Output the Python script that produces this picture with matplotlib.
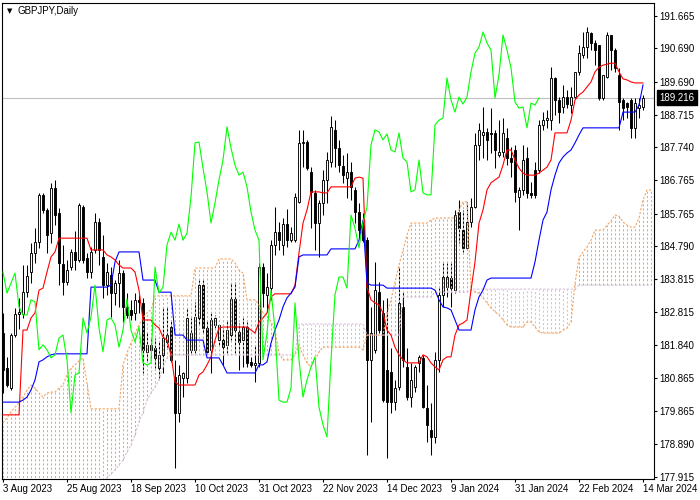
import matplotlib
matplotlib.use('Agg')
import matplotlib.pyplot as plt
import matplotlib.transforms as mtransforms
from matplotlib.patches import Rectangle

plt.rcParams['font.family'] = ['Liberation Sans', 'DejaVu Sans']

# ── Data (GBPJPY daily, 3 Aug 2023 .. 14 Mar 2024) ─────────────────────────
OPENS = [182.20, 181.16, 180.56, 182.14, 182.77, 182.77, 183.42, 184.02, 184.59, 184.92,
         186.32, 185.87, 185.18, 186.53, 185.78, 184.26, 183.72, 184.17, 184.62, 184.38,
         185.96, 184.44, 184.02, 184.68, 185.51, 184.47, 183.63, 183.93, 183.39, 183.69,
         183.99, 182.98, 182.89, 182.80, 183.19, 183.10, 181.64, 181.85, 181.76, 181.16,
         181.55, 181.93, 182.38, 180.89, 179.82, 180.86, 180.86, 181.70, 181.70, 182.65,
         183.63, 182.35, 181.70, 182.44, 181.99, 181.99, 181.85, 182.14, 183.22, 182.23,
         181.99, 182.38, 181.34, 181.25, 181.31, 184.17, 183.34, 183.54, 184.83, 185.21,
         184.83, 185.45, 184.97, 184.97, 186.11, 187.87, 187.90, 187.00, 186.38, 185.48,
         186.08, 186.77, 187.30, 188.26, 187.72, 187.18, 186.82, 187.00, 186.47, 185.81,
         185.42, 184.97, 181.40, 181.70, 183.42, 182.80, 181.10, 181.04, 180.14, 180.59,
         182.98, 181.19, 180.29, 180.59, 181.31, 181.46, 179.96, 179.31, 179.10, 181.40,
         183.34, 183.57, 183.84, 183.48, 185.81, 185.27, 184.74, 185.51, 185.96, 187.81,
         188.11, 188.20, 188.17, 188.17, 187.51, 187.60, 188.02, 187.42, 187.66, 186.26,
         186.47, 187.42, 186.38, 187.06, 187.06, 188.41, 188.55, 188.55, 189.81, 189.15,
         188.94, 189.24, 189.00, 189.24, 189.99, 190.49, 190.73, 191.15, 190.85, 190.79,
         189.21, 189.84, 191.09, 190.64, 189.90, 189.15, 189.06, 189.15, 188.32, 188.91,
         188.94]
HIGHS = [182.80, 181.49, 182.20, 182.95, 183.25, 184.23, 184.23, 184.89, 185.33, 186.38,
         186.38, 185.93, 186.68, 186.77, 185.93, 184.83, 184.38, 184.71, 185.24, 186.08,
         186.02, 184.59, 184.77, 185.78, 185.63, 185.12, 184.29, 184.17, 183.78, 184.38,
         184.08, 183.39, 183.19, 183.39, 183.34, 183.25, 182.23, 182.08, 182.05, 181.93,
         182.98, 182.98, 182.59, 181.40, 181.25, 181.04, 182.95, 182.65, 183.13, 183.78,
         183.78, 182.59, 182.80, 182.74, 182.44, 182.35, 182.59, 183.69, 183.72, 182.50,
         182.65, 182.53, 181.49, 181.84, 184.29, 184.29, 183.99, 184.97, 185.96, 185.51,
         185.63, 185.90, 185.36, 186.38, 188.26, 188.26, 187.96, 187.15, 186.47, 186.17,
         187.06, 187.60, 188.67, 188.55, 187.96, 187.51, 187.57, 187.30, 186.56, 186.08,
         185.78, 185.06, 182.98, 184.32, 183.72, 183.19, 183.25, 181.76, 180.80, 184.17,
         183.42, 181.76, 181.31, 181.25, 181.55, 181.55, 180.65, 180.11, 181.64, 183.54,
         184.29, 184.29, 184.29, 185.87, 186.17, 185.87, 186.11, 186.23, 188.17, 188.46,
         188.94, 188.32, 188.91, 188.26, 188.55, 188.61, 188.32, 187.75, 187.81, 186.56,
         187.81, 187.75, 186.71, 187.30, 188.55, 188.79, 188.85, 190.13, 189.84, 189.24,
         189.60, 189.45, 189.54, 189.99, 190.79, 191.18, 191.33, 191.18, 190.94, 190.79,
         189.90, 191.18, 191.09, 190.70, 190.11, 189.21, 189.09, 189.21, 189.21, 189.21,
         189.30]
LOWS = [180.41, 180.59, 180.50, 182.08, 182.32, 182.65, 183.28, 183.69, 184.29, 184.74,
        185.78, 184.59, 184.89, 185.42, 183.63, 183.34, 183.63, 184.08, 184.08, 184.32,
        184.29, 183.84, 183.84, 184.59, 184.23, 183.25, 183.34, 182.68, 183.04, 182.98,
        182.53, 182.65, 182.59, 182.59, 182.80, 181.01, 181.34, 181.40, 181.16, 180.86,
        181.01, 181.78, 181.34, 178.18, 179.55, 180.29, 180.71, 181.61, 181.61, 182.44,
        182.20, 181.61, 181.01, 182.35, 181.85, 181.25, 181.61, 181.99, 181.61, 181.10,
        181.19, 181.19, 181.19, 180.74, 181.19, 182.98, 182.83, 183.19, 184.53, 184.68,
        184.53, 184.77, 184.92, 184.92, 186.08, 187.15, 187.06, 185.33, 184.68, 184.47,
        185.72, 186.08, 187.15, 187.15, 187.00, 186.68, 186.23, 186.17, 185.48, 185.06,
        184.92, 178.56, 179.55, 181.61, 182.20, 180.14, 178.47, 179.82, 179.91, 180.50,
        181.19, 180.20, 180.00, 180.44, 181.04, 179.96, 178.95, 178.56, 178.92, 181.04,
        182.98, 183.28, 182.98, 183.39, 184.89, 184.62, 184.68, 185.36, 185.93, 187.36,
        187.42, 187.36, 187.57, 187.12, 187.45, 187.45, 187.21, 186.85, 186.11, 185.27,
        186.32, 186.23, 186.23, 186.23, 186.97, 188.26, 188.32, 188.26, 188.70, 188.46,
        188.76, 188.91, 188.76, 189.21, 189.90, 190.40, 190.40, 190.64, 190.19, 189.15,
        189.15, 189.81, 190.05, 189.99, 188.26, 188.55, 188.61, 188.02, 188.02, 188.61,
        188.85]
CLOSES = [181.10, 180.65, 182.14, 182.77, 182.83, 183.42, 183.90, 184.59, 184.92, 186.32,
          185.87, 185.12, 186.53, 185.72, 184.29, 183.72, 184.08, 184.62, 184.38, 186.02,
          184.38, 184.02, 184.62, 185.51, 184.68, 183.63, 184.02, 183.39, 183.69, 183.99,
          182.98, 182.74, 182.74, 183.19, 183.13, 181.70, 181.85, 181.70, 181.46, 181.55,
          182.05, 182.14, 181.40, 179.82, 180.95, 181.01, 182.65, 182.20, 182.68, 183.63,
          182.35, 181.64, 182.59, 182.65, 182.44, 181.78, 182.29, 183.22, 182.29, 181.93,
          182.38, 181.31, 181.25, 181.31, 184.17, 183.39, 183.57, 184.83, 185.21, 184.97,
          185.45, 184.97, 185.18, 186.26, 187.87, 187.90, 187.12, 186.41, 185.48, 186.08,
          186.77, 187.36, 188.35, 187.72, 187.21, 186.91, 187.00, 186.56, 185.81, 185.27,
          184.97, 181.40, 182.20, 183.48, 182.29, 180.20, 180.14, 180.14, 180.56, 183.10,
          181.40, 180.29, 180.80, 181.19, 181.49, 179.99, 179.46, 179.10, 181.40, 183.34,
          183.87, 183.87, 183.54, 185.72, 185.33, 184.74, 185.51, 185.96, 187.81, 188.26,
          188.20, 187.96, 188.14, 187.66, 187.60, 188.17, 187.42, 187.30, 186.41, 186.47,
          187.36, 186.38, 186.32, 186.32, 188.41, 188.55, 188.61, 189.81, 189.15, 188.79,
          189.24, 189.03, 189.24, 189.99, 190.55, 190.73, 191.18, 190.85, 190.64, 189.21,
          189.90, 191.09, 190.64, 190.11, 189.09, 188.91, 188.94, 188.32, 189.06, 189.00,
          189.216]

# Ichimoku lines
TENKAN = ([179.76] * 5 + [182.29, 182.29, 182.65, 182.80, 183.48, 183.54, 184.02, 184.47, 184.62]
          + [185.03] * 8 + [184.68] * 4 + [184.53, 184.47, 184.38, 184.23] + [184.14] * 3
          + [184.02, 183.48] + [182.59] * 3 + [182.44, 182.35, 182.08, 181.99, 181.55, 180.74]
          + [180.65] * 5 + [180.95, 181.04, 181.25, 181.49, 181.99, 182.35] + [182.38] * 7
          + [182.29, 182.20, 182.53, 182.65, 182.80, 183.28] + [183.37] * 5
          + [183.63, 184.59, 185.48, 185.87] + [186.41] * 3 + [186.38] * 2 + [186.56] * 6
          + [186.82, 186.85, 186.82, 183.57, 183.19, 183.10, 183.04, 182.80, 182.29, 182.14,
             181.78, 181.55, 181.40] + [181.31] * 4
          + [181.55, 181.49, 181.31, 181.19, 181.10, 181.40, 181.49, 181.49, 182.14, 182.44,
             182.50, 182.59, 183.48, 184.32, 185.48, 185.87, 186.47, 186.68, 186.77, 186.85,
             187.21, 187.66, 187.66, 187.36, 187.12, 186.97] + [186.91] * 3
          + [186.97, 187.06, 187.15, 187.36] + [188.17] * 4
          + [188.55, 189.15, 189.30, 189.39, 189.54, 189.69, 189.99, 190.13, 190.19, 190.22,
             190.25, 190.25, 189.99, 189.78, 189.75, 189.69] + [189.66] * 3)
KIJUN = ([180.14] * 5 + [180.20, 180.29, 180.50, 180.80, 181.34, 181.40, 181.49, 181.55]
         + [181.58] * 9 + [183.57] * 5 + [183.63, 184.32] + [184.62] * 6 + [183.78] * 4
         + [183.42] * 4 + [182.14] * 3 + [181.99] * 5 + [181.46] * 4 + [181.25]
         + [181.01] * 8 + [181.25] * 2
         + [181.34, 181.90, 182.29, 182.59, 182.98, 183.25, 183.39, 183.57, 184.47]
         + [184.53] * 7 + [184.71] * 7 + [184.97, 185.57, 183.69] + [183.63] * 4
         + [183.54] * 12 + [183.48, 183.19, 182.98, 182.95, 182.89, 182.59] + [182.29] * 4
         + [182.89, 183.28, 183.48, 183.78] + [183.84] * 11
         + [184.32, 184.97, 185.57, 185.81, 186.47, 186.91, 187.27, 187.45, 187.57, 187.66,
            187.87, 188.11] + [188.32] * 10 + [188.79] * 4 + [189.00, 189.60])
SPAN_A = ([179.52, 179.67, 179.85, 179.99, 180.11, 180.29, 180.50, 180.65, 180.56, 180.41,
           180.29, 180.41, 180.44, 180.44, 180.56, 180.65, 180.95, 181.16, 181.25, 181.37,
           181.46, 180.71] + [179.94] * 8
          + [181.25, 181.61, 181.90, 182.20, 182.44, 182.65, 182.80, 182.89] + [183.31] * 10
          + [184.14] * 6 + [184.41] * 4 + [184.29, 184.08, 183.99] + [183.19] * 3
          + [183.04, 182.80, 182.74, 182.53, 182.29, 181.61] + [181.40] * 3
          + [181.55, 181.84, 181.55, 181.31, 181.19, 181.40, 181.64] + [181.78] * 10
          + [181.70] + [182.14] * 5 + [182.80, 183.19, 183.72, 184.23, 184.68, 185.12]
          + [185.48] * 5 + [185.57] + [185.63] * 6 + [185.87, 186.11, 186.11]
          + [183.48, 183.42, 183.39, 183.25, 183.10, 182.95, 182.83, 182.74, 182.59, 182.44]
          + [182.38] * 4 + [182.53] * 2 + [182.38, 182.23] + [182.20] * 5
          + [182.29, 182.35, 182.53, 183.69, 184.44, 184.62, 184.77, 184.97] + [185.27] * 3
          + [185.42, 185.54, 185.72, 185.69, 185.51, 185.42, 185.36, 185.36, 185.63, 186.17,
             186.47, 186.47])
SPAN_B = ([177.52] * 25
          + [177.70, 177.88, 178.00, 178.12, 178.27, 178.41, 178.65, 178.86, 179.16, 179.55,
             179.82, 180.20, 180.41, 180.59, 180.80, 181.19, 181.46]
          + [181.55] * 32 + [182.47] * 17 + [182.14] * 9 + [183.28] * 8 + [183.42] * 9
          + [183.51] * 27 + [183.63] * 19)

LAST_PRICE = 189.216
PRICE_TICKS = [191.665, 190.690, 189.690, 188.715, 187.740, 186.765, 185.765, 184.790,
               183.815, 182.815, 181.840, 180.865, 179.865, 178.890, 177.915]
DATE_IDX = [0, 16, 32, 48, 64, 80, 96, 112, 128, 144, 160]
DATE_LABELS = ['3 Aug 2023', '25 Aug 2023', '18 Sep 2023', '10 Oct 2023', '31 Oct 2023',
               '22 Nov 2023', '14 Dec 2023', '9 Jan 2024', '31 Jan 2024', '22 Feb 2024',
               '14 Mar 2024']
CHIKOU_SHIFT = 26

# ── Style ───────────────────────────────────────────────────────────────────
UP_KUMO = '#F4A460'     # sandy brown
DOWN_KUMO = '#D8BFD8'   # thistle
FONT_SIZE = 7

n = len(CLOSES)
assert len(OPENS) == n and len(HIGHS) == n and len(LOWS) == n
assert len(TENKAN) == n and len(KIJUN) == n, (len(TENKAN), len(KIJUN))
assert len(SPAN_A) == len(SPAN_B), (len(SPAN_A), len(SPAN_B))

fig = plt.figure(figsize=(7, 5), dpi=100)
ax = fig.add_axes([2 / 700, 21 / 500, 652 / 700, 476 / 500])
ax.set_xlim(-0.25, 162.75)
ax.set_ylim(177.847, 192.044)

# current price line
ax.axhline(LAST_PRICE, color='#C0C0C0', lw=0.8, zorder=0.5)

# candles
for i in range(n):
    o, h, l, c = OPENS[i], HIGHS[i], LOWS[i], CLOSES[i]
    ax.vlines(i, l, h, color='black', lw=0.75, zorder=2)
    bottom = min(o, c)
    height = max(abs(c - o), 0.005)
    face = 'white' if c >= o else 'black'
    ax.add_patch(Rectangle((i - 0.3, bottom), 0.6, height, facecolor=face,
                           edgecolor='black', lw=0.65, zorder=2.5))

# kumo (dotted histogram between span A and span B)
for i, (a, b) in enumerate(zip(SPAN_A, SPAN_B)):
    col = UP_KUMO if a >= b else DOWN_KUMO
    ax.vlines(i, min(a, b), max(a, b), color=col, lw=0.75,
              linestyles=(0, (2, 2)), zorder=3)
xs_span = list(range(len(SPAN_A)))
ax.plot(xs_span, SPAN_A, color=UP_KUMO, lw=0.8, ls=(0, (2, 1.5)), zorder=3.2)
ax.plot(xs_span, SPAN_B, color=DOWN_KUMO, lw=0.8, ls=(0, (2, 1.5)), zorder=3.2)

# tenkan, kijun, chikou
xs = list(range(n))
ax.plot(xs, TENKAN, color='red', lw=0.8, zorder=4)
ax.plot(xs, KIJUN, color='blue', lw=0.8, zorder=4)
chikou = CLOSES[CHIKOU_SHIFT:]
ax.plot(list(range(len(chikou))), chikou, color='#00FF00', lw=0.8, zorder=4)

# axes styling
for sp in ax.spines.values():
    sp.set_color('black')
    sp.set_linewidth(0.8)
ax.yaxis.tick_right()
ax.set_yticks(PRICE_TICKS)
ax.set_yticklabels([f'{p:.3f}' for p in PRICE_TICKS])
ax.set_xticks(DATE_IDX)
ax.set_xticklabels(DATE_LABELS, ha='left')
ax.tick_params(axis='both', length=2.2, width=0.8, pad=1.5, labelsize=FONT_SIZE,
               colors='black')

# last price tag
trans = mtransforms.blended_transform_factory(ax.transAxes, ax.transData)
ax.text(1.0 + 5 / 652, LAST_PRICE, f'{LAST_PRICE:.3f}', transform=trans,
        ha='left', va='center', fontsize=FONT_SIZE, color='white',
        bbox=dict(boxstyle='square,pad=0.25', facecolor='black', edgecolor='black'),
        clip_on=False, zorder=10)

# symbol caption
fig.text(7 / 700, 1 - 11 / 500, '\u25bc', fontsize=5, family='DejaVu Sans',
         va='center', ha='left')
fig.text(18 / 700, 1 - 11 / 500, 'GBPJPY,Daily', fontsize=FONT_SIZE,
         va='center', ha='left')

fig.savefig('out.png', dpi=100)
plt.close(fig)
